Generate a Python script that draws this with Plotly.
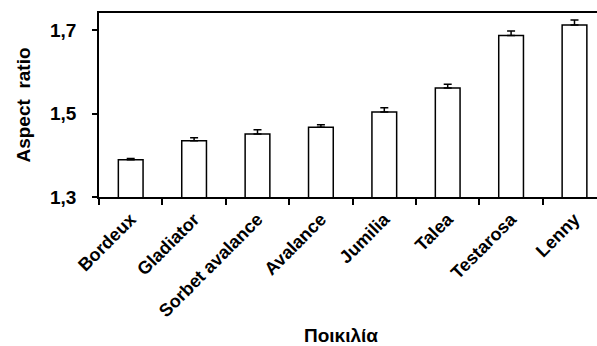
import plotly.graph_objects as go

varieties = ["Bordeux", "Gladiator", "Sorbet avalance", "Avalance", "Jumilia", "Talea", "Testarosa", "Lenny"]
aspect_ratio = [1.389, 1.435, 1.451, 1.467, 1.504, 1.561, 1.687, 1.712]
error_up = [0.003, 0.007, 0.010, 0.006, 0.010, 0.009, 0.011, 0.012]

fig = go.Figure(go.Bar(
    x=varieties, y=aspect_ratio, width=0.39,
    marker=dict(color="white", line=dict(color="black", width=1.5)),
    error_y=dict(type="data", array=error_up, arrayminus=[0]*len(error_up), symmetric=False,
                 color="black", thickness=1.5, width=4),
))

fig.update_layout(
    width=597, height=346,
    margin=dict(l=99, r=0, t=13, b=149),
    paper_bgcolor="white", plot_bgcolor="white",
    separators=",.",
    showlegend=False,
    font=dict(family="Liberation Sans, Arial, sans-serif", color="black"),
    xaxis=dict(
        automargin=False,
        range=[-0.5, 7.355], tickson="boundaries", ticks="outside", ticklen=6, tickwidth=1.5,
        tickcolor="black", showline=True, linecolor="black", linewidth=1.5, mirror=True,
        tickangle=-45, tickfont=dict(size=18, weight="bold"), ticklabelstandoff=3,
        showgrid=False,
    ),
    yaxis=dict(
        automargin=False,
        range=[1.3, 1.741], tickvals=[1.3, 1.5, 1.7], tickformat=".1f",
        ticks="outside", ticklen=5, tickwidth=1.5, tickcolor="black", ticklabelstandoff=12,
        showline=True, linecolor="black", linewidth=1.5, mirror=False, showgrid=False, zeroline=False,
        tickfont=dict(size=19, weight="bold"),
        title=dict(text="<b>Aspect\u00a0 ratio</b>", font=dict(size=19), standoff=14),
    ),
    annotations=[dict(
        text="<b>Ποικιλία</b>", xref="paper", yref="paper", x=0.486, y=-0.75,
        xanchor="center", yanchor="middle", showarrow=False, font=dict(size=19),
    )],
)

fig.write_html("out.html", config={"displayModeBar": False},
               post_script="document.body.style.margin='0';document.body.style.overflow='hidden';")
